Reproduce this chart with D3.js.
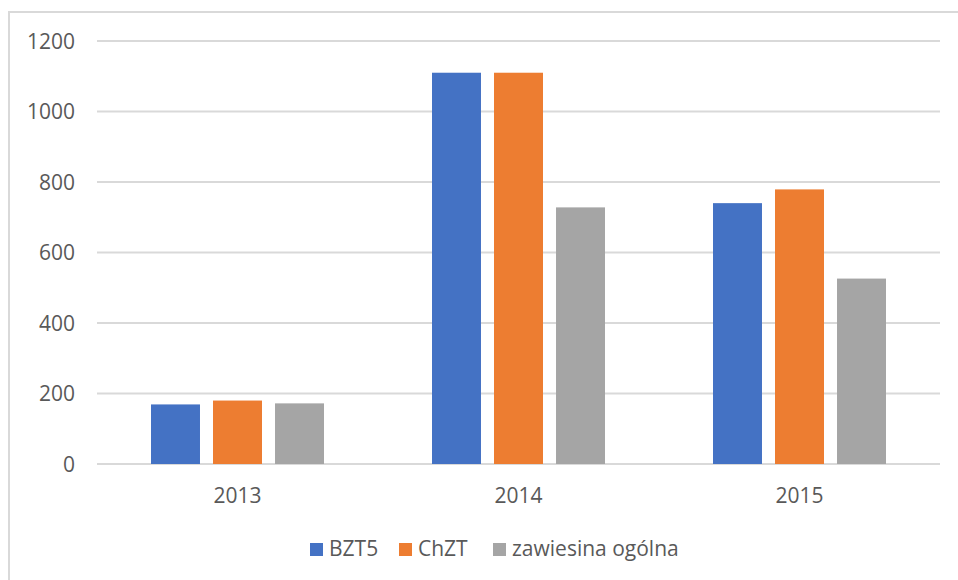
<!DOCTYPE html>
<html>
<head>
<meta charset="utf-8">
<script src="https://cdn.jsdelivr.net/npm/d3@7"></script>
<style>
  body { margin: 0; background: #fff; }
  text { font-family: "Open Sans", "Liberation Sans", sans-serif; fill: #595959; }
</style>
</head>
<body>
<script>

  // values
  var years = ["2013", "2014", "2015"];
  var seriesNames = ["BZT5", "ChZT", "zawiesina ogólna"];
  var bzt5 = [169, 1110, 740];
  var chzt = [180, 1110, 779];
  var zawiesina = [172, 728, 526];
  var yTicks = [0, 200, 400, 600, 800, 1000, 1200];
  var colors = ["#4472C4", "#ED7D31", "#A5A5A5"];

  var seriesValues = [bzt5, chzt, zawiesina];

  var width = 958, height = 580;
  var plotLeft = 97, plotRight = 940, plotTop = 41, plotBottom = 464;

  var svg = d3.select("body").append("svg")
      .attr("width", width)
      .attr("height", height);

  // chart border (left and top visible)
  svg.append("path")
    .attr("d", "M9,580 V12 H958")
    .attr("fill", "none")
    .attr("stroke", "#d9d9d9")
    .attr("stroke-width", 2);

  var x = d3.scaleBand()
    .domain(years)
    .range([plotLeft, plotRight]);

  var x1 = d3.scaleBand()
    .domain(d3.range(seriesNames.length))
    .range([54, x.bandwidth() - 54])
    .paddingInner(0.21);

  var y = d3.scaleLinear()
    .domain([0, 1200])
    .range([plotBottom, plotTop]);

  // gridlines
  svg.append("g")
    .selectAll("line")
    .data(yTicks)
    .enter().append("line")
    .attr("x1", plotLeft)
    .attr("x2", plotRight)
    .attr("y1", function(d) { return y(d); })
    .attr("y2", function(d) { return y(d); })
    .attr("stroke", "#d9d9d9")
    .attr("stroke-width", 2);

  // y labels
  svg.append("g")
    .selectAll("text")
    .data(yTicks)
    .enter().append("text")
    .attr("x", 75)
    .attr("y", function(d) { return y(d); })
    .attr("dy", "0.36em")
    .attr("text-anchor", "end")
    .attr("font-size", 21)
    .text(function(d) { return d; });

  // bars
  var groups = svg.append("g")
    .selectAll("g")
    .data(years)
    .enter().append("g")
    .attr("transform", function(d) { return "translate(" + x(d) + ",0)"; });

  groups.selectAll("rect")
    .data(function(d, i) {
      return seriesValues.map(function(s, j) { return { s: j, v: s[i] }; });
    })
    .enter().append("rect")
    .attr("x", function(d) { return x1(d.s); })
    .attr("width", x1.bandwidth())
    .attr("y", function(d) { return y(d.v); })
    .attr("height", function(d) { return y(0) - y(d.v); })
    .attr("fill", function(d) { return colors[d.s]; });

  // x labels
  svg.append("g")
    .selectAll("text")
    .data(years)
    .enter().append("text")
    .attr("x", function(d) { return x(d) + x.bandwidth() / 2; })
    .attr("y", 503)
    .attr("text-anchor", "middle")
    .attr("font-size", 21)
    .text(function(d) { return d; });

  // legend
  var legendX = [310, 399, 493];
  var legend = svg.append("g")
    .selectAll("g")
    .data(seriesNames)
    .enter().append("g")
    .attr("transform", function(d, i) { return "translate(" + legendX[i] + ",543)"; });

  legend.append("rect")
    .attr("width", 13)
    .attr("height", 13)
    .attr("fill", function(d, i) { return colors[i]; });

  legend.append("text")
    .attr("x", 19)
    .attr("y", 13)
    .attr("font-size", 21)
    .text(function(d) { return d; });

</script>
</body>
</html>
